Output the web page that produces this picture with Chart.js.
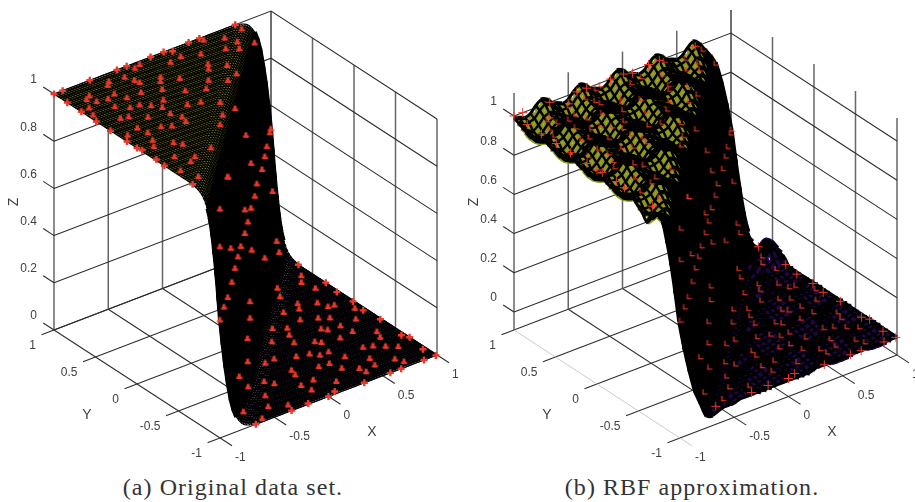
<!DOCTYPE html>
<html lang="en">
<head>
<meta charset="UTF-8">
<title>Original data set and RBF approximation</title>
<script src="https://cdn.jsdelivr.net/npm/chart.js"></script>
<style>
  body { margin: 0; background: #fff; width: 915px; height: 502px; overflow: hidden; position: relative; }
  canvas { position: absolute; top: 0; }
  .cap { position: absolute; top: 474px; font: 24px "Liberation Serif", serif; letter-spacing: 1.05px; color: #333; transform: translateX(-50%); white-space: nowrap; }
</style>
</head>
<body>
<canvas id="chartA" width="460" height="470" style="left:0"></canvas>
<canvas id="chartB" width="455" height="470" style="left:460px"></canvas>
<div class="cap" style="left:233px">(a) Original data set.</div>
<div class="cap" style="left:692px">(b) RBF approximation.</div>
<script>
const xTicks = [-1, -0.5, 0, 0.5, 1];
const yTicks = [-1, -0.5, 0, 0.5, 1];
const zTicks = [0, 0.2, 0.4, 0.6, 0.8, 1];
const tickText = { '-1': '-1', '-0.5': '-0.5', '0': '0', '0.5': '0.5', '1': '1' };

// data sites, upper plateau (z = 1)
const topX = [-1,-.92,-1,-1,-.67,-.82,-.86,-.81,-.92,-1,-.96,-1,-.42,-.33,-.61,-.57,-.65,-.73,-.76,-.61,-.68,-.83,-.77,-.44,-.41,-.40,-.24,-.30,-.11,.01,.07,.07,.24,.34,.35,.67,.67,.62,.49,.40,.53,.48,.21,.16,.12,-.04,-.23,-.13,-.27,-.33,-.48,-.54,-.60,-.42,-.49,-.32,-.21,.02,-.07,.26,.24,.13,-.11,-.22,-.08,-.21,-.31,-.50,-.46,-.48,-.66,-.94,-.82,-.80,-.67,-.60,-1,-1,-.99,-.84,-.89,-.74,-.70,-.99,-1,-.86,-.74,-.81,-.95,-.90,-1,-.57];
const topY = [1,1,.84,.67,1,.72,.79,.82,.68,.49,.58,.32,1,1,.86,.90,.73,.70,.58,.63,.50,.42,.40,.88,.80,.75,.96,.94,1,1,.97,.87,1,1,.96,1,.92,.70,.89,.76,.79,.70,.81,.66,.60,.85,.72,.62,.67,.57,.63,.43,.49,.44,.36,.28,.45,.47,.38,.56,.42,.38,.16,.25,.02,0,-.10,.25,.16,.09,.31,.19,.23,.13,.14,.10,.12,0,-.05,.02,-.06,-.10,-.16,-.22,-.33,-.27,-.36,-.40,-.46,-.61,-.67,-.33];
// data sites on the steep wall
const wallX = [.02,1,.96,.84,.76,-.69,.22,.65,-.69,.45,.37,1,-1,-.02,.22,.10,-.02,1,-1,-.57,-.18,.25,-.29,.76,1,-.41,-.53,-.69,.18,-.84,.18,-1,-.08,-.20,-.34,-.38,-.63];
const wallY = [.02,1,.96,.84,.76,-.69,.22,.65,-.69,.45,.37,.98,-1,-.02,.22,.10,-.02,.93,-1,-.57,-.18,.25,-.29,.76,.90,-.41,-.53,-.69,.18,-.84,.18,-1,-.13,-.29,-.37,-.53,-.80];
const wallZ = [.87,.50,.50,.49,.48,.98,.67,.47,.98,.49,.47,.24,.97,.57,.48,.47,.47,.04,.81,.63,.48,.29,.48,.05,0,.48,.47,.47,.10,.49,.03,.50,.06,.02,0,0,0];
// data sites on the lower plateau (z = 0)
const lowX = [1,.92,.86,.67,.61,.89,1,.98,.65,.61,.77,.80,.85,.99,.94,.97,.49,.52,.64,.71,.85,.99,.28,.37,.32,.56,.59,.70,.72,.86,.97,1,.16,.28,.41,.44,.59,.64,.71,.78,.85,.83,.97,.99,.88,.17,.27,.32,.40,.45,.58,.72,.75,.67,.02,-.07,.02,0,.21,.30,.33,.43,.44,.55,.57,.33,-.24,-.20,-.06,.06,-.04,.18,.08,0,-.36,-.44,-.31,-.34,-.18,-.58,-.67];
const lowY = [.67,.53,.45,.49,.38,.32,.34,.18,.22,.15,.14,.05,.04,0,-.09,-.15,.18,.02,-.04,-.09,-.22,-.33,.04,-.02,-.11,-.18,-.22,-.23,-.35,-.46,-.61,-.67,-.11,-.22,-.30,-.34,-.37,-.58,-.61,-.67,-.73,-.54,-.87,-1,-1,-.39,-.42,-.48,-.48,-.61,-.74,-.86,-.93,-1,-.32,-.33,-.53,-.60,-.61,-.62,-.73,-.81,-.88,-.84,-1,-1,-.54,-.61,-.75,-.74,-.85,-.86,-.97,-1,-.71,-.85,-.92,-1,-.99,-.96,-1];

// panel (a): height read across the step, one value per 0.025 of x - y, from x - y = -0.3
const stepZ = [.995,.993,.989,.983,.973,.957,.937,.905,.858,.79,.71,.61,.50,.39,.29,.21,.142,.095,.063,.043,.027,.017,.011,.007,.005];

// panel (b): heights in hundredths, rows y = 1 .. -1, columns x = -1 .. 1 (step 0.05)
const rbfRows = [
[99,98,97,98,101,103,102,99,98,97,98,101,103,102,99,98,97,98,101,103,102,99,98,97,98,101,103,102,99,98,97,98,101,103,101,97,93,88,78,65,50],
[98,96,96,97,100,102,101,98,96,96,97,100,102,101,98,96,96,97,100,102,101,98,96,96,97,100,102,101,98,96,96,97,100,101,98,93,88,78,65,50,35],
[97,94,93,95,98,99,98,96,94,93,95,98,99,98,96,94,93,95,98,99,98,96,94,93,95,98,99,98,96,94,93,95,98,97,94,88,78,65,50,35,22],
[96,92,92,93,96,98,96,94,92,92,93,96,98,96,94,92,92,93,96,98,96,94,92,92,93,96,98,96,94,92,92,94,95,93,88,78,65,50,35,22,11],
[96,92,91,92,95,97,96,93,92,91,92,95,97,96,93,92,91,92,95,97,96,93,92,91,92,95,97,96,93,92,92,93,92,88,78,65,50,35,22,11,4],
[96,93,92,93,96,98,97,95,93,92,93,96,98,97,95,93,92,93,96,98,97,95,93,92,93,96,98,97,95,94,93,91,88,78,65,50,35,22,11,4,0],
[97,96,95,96,99,101,100,98,96,95,96,99,101,100,98,96,95,96,99,101,100,98,96,95,96,99,101,100,98,95,92,88,78,65,50,35,22,11,4,0,-2],
[98,98,97,98,101,103,102,99,98,97,98,101,103,102,99,98,97,98,101,103,102,99,98,97,98,101,103,101,97,93,88,78,65,50,35,22,11,4,0,-2,-2],
[97,96,96,97,100,102,101,98,96,96,97,100,102,101,98,96,96,97,100,102,101,98,96,96,97,100,101,98,93,88,78,65,50,35,22,11,4,0,-2,-2,-1],
[96,94,93,95,98,99,98,96,94,93,95,98,99,98,96,94,93,95,98,99,98,96,94,93,95,98,97,94,88,78,65,50,35,22,11,4,0,0,1,2,3],
[96,92,92,93,96,98,96,94,92,92,93,96,98,96,94,92,92,93,96,98,96,94,92,92,94,95,93,88,78,65,50,35,22,11,4,0,1,4,7,7,4],
[96,92,91,92,95,97,96,93,92,91,92,95,97,96,93,92,91,92,95,97,96,93,92,92,93,92,88,78,65,50,35,22,11,4,0,-2,2,8,11,9,5],
[96,93,92,93,96,98,97,95,93,92,93,96,98,97,95,93,92,93,96,98,97,95,94,93,91,88,78,65,50,35,22,11,4,0,-2,0,3,5,8,7,4],
[97,96,95,96,99,101,100,98,96,95,96,99,101,100,98,96,95,96,99,101,100,98,95,92,88,78,65,50,35,22,11,4,0,-2,-2,-1,2,2,4,4,3],
[98,98,97,98,101,103,102,99,98,97,98,101,103,102,99,98,97,98,101,103,101,97,93,88,78,65,50,35,22,11,4,0,-2,-2,-1,1,0,0,0,1,0],
[97,96,96,97,100,102,101,98,96,96,97,100,102,101,98,96,96,97,100,101,98,93,88,78,65,50,35,22,11,4,0,-2,-2,-1,1,0,0,0,0,1,0],
[96,94,93,95,98,99,98,96,94,93,95,98,99,98,96,94,93,95,98,97,94,88,78,65,50,35,22,11,4,0,-2,-2,-1,1,0,0,-1,-1,-1,0,0],
[96,92,92,93,96,98,96,94,92,92,93,96,98,96,94,92,92,94,95,93,88,78,65,50,35,22,11,4,0,-2,-2,-1,0,0,0,-1,-2,-2,-1,0,0],
[96,92,91,92,95,97,96,93,92,91,92,95,97,96,93,92,92,93,92,88,78,65,50,35,22,11,4,0,-2,-2,-1,-2,-1,0,0,-1,-2,-2,-2,-1,0],
[96,93,92,93,96,98,97,95,93,92,93,96,98,97,95,94,93,91,88,78,65,50,35,22,11,4,0,-2,-2,-1,-2,-1,0,0,0,-1,-1,-2,-1,0,0],
[97,96,95,96,99,101,100,98,96,95,96,99,101,100,98,95,92,88,78,65,50,35,22,11,4,0,-2,-2,-1,0,-1,0,1,1,1,0,0,-1,0,1,0],
[98,98,97,98,101,103,102,99,98,97,98,101,103,101,97,93,88,78,65,50,35,22,11,4,0,-2,-2,-1,1,0,0,0,1,2,2,1,0,0,0,1,0],
[97,96,96,97,100,102,101,98,96,96,97,100,101,98,93,88,78,65,50,35,22,11,4,0,-2,-2,-1,1,0,0,0,0,1,2,1,0,0,0,0,1,0],
[96,94,93,95,98,99,98,96,94,93,95,98,97,94,88,78,65,50,35,22,11,4,0,-2,-2,-1,1,0,0,-1,-1,-1,0,1,0,0,-1,-1,-1,0,0],
[96,92,92,93,96,98,96,94,92,92,94,95,93,88,78,65,50,35,22,11,4,0,-2,-2,-1,0,0,0,-1,-2,-2,-1,0,0,0,-1,-2,-2,-1,0,0],
[96,92,91,92,95,97,96,93,92,92,93,92,88,78,65,50,35,22,11,4,0,-2,-2,-1,-2,-1,0,0,-1,-2,-2,-2,-1,0,0,-1,-2,-2,-2,-1,0],
[96,93,92,93,96,98,97,95,94,93,91,88,78,65,50,35,22,11,4,0,-2,-2,-1,-2,-1,0,0,0,-1,-1,-2,-1,0,0,0,-1,-1,-2,-1,0,0],
[97,96,95,96,99,101,100,98,95,92,88,78,65,50,35,22,11,4,0,-2,-2,-1,0,-1,0,1,1,1,0,0,-1,0,1,1,1,0,0,-1,0,1,0],
[98,98,97,98,101,103,101,97,93,88,78,65,50,35,22,11,4,0,-2,-2,-1,1,0,0,0,1,2,2,1,0,0,0,1,2,2,1,0,0,0,1,0],
[97,96,96,97,100,101,98,93,88,78,65,50,35,22,11,4,0,-2,-2,-1,1,0,0,0,0,1,2,1,0,0,0,0,1,2,1,0,0,0,0,1,0],
[95,93,93,95,98,97,94,88,78,65,50,35,22,11,4,0,-2,-2,-1,1,0,0,-1,-1,-1,0,1,0,0,-1,-1,-1,0,1,0,0,-1,-1,-1,0,0],
[93,92,92,94,95,93,88,78,65,50,35,22,11,4,0,-2,-2,-1,0,0,0,-1,-2,-2,-1,0,0,0,-1,-2,-2,-1,0,0,0,-1,-2,-2,-1,0,0],
[90,91,92,93,92,88,78,65,50,35,22,11,4,0,-2,-2,-1,-2,-1,0,0,-1,-2,-2,-2,-1,0,0,-1,-2,-2,-2,-1,0,0,-1,-2,-2,-2,-1,0],
[94,94,93,91,88,78,65,50,35,22,11,4,0,-2,-2,-1,-2,-1,0,0,0,-1,-1,-2,-1,0,0,0,-1,-1,-2,-1,0,0,0,-1,-1,-2,-1,0,0],
[97,95,92,88,78,65,50,35,22,11,4,0,-2,-2,-1,0,-1,0,1,1,1,0,0,-1,0,1,1,1,0,0,-1,0,1,1,1,0,0,-1,0,1,0],
[97,93,88,78,65,50,35,22,11,4,0,-2,-2,-1,1,0,0,0,1,2,2,1,0,0,0,1,2,2,1,0,0,0,1,2,2,1,0,0,0,1,0],
[96,88,78,65,50,35,22,11,4,0,-2,-2,-1,1,0,0,0,0,1,2,1,0,0,0,0,1,2,1,0,0,0,0,1,2,1,0,0,0,0,1,0],
[88,78,65,50,35,22,11,4,0,-2,-2,-1,1,0,0,-1,-1,-1,0,1,0,0,-1,-1,-1,0,1,0,0,-1,-1,-1,0,1,0,0,-1,-1,-1,0,0],
[78,65,50,35,22,11,4,0,-2,-2,-1,0,0,0,-1,-2,-2,-1,0,0,0,-1,-2,-2,-1,0,0,0,-1,-2,-2,-1,0,0,0,-1,-2,-2,-1,0,0],
[65,50,35,22,11,4,0,-2,-2,-1,-2,-1,0,0,-1,-2,-2,-2,-1,0,0,-1,-2,-2,-2,-1,0,0,-1,-2,-2,-2,-1,0,0,-1,-2,-2,-2,-1,0],
[50,35,22,11,4,-3,-4,-3,-2,-2,-2,-1,-1,-1,-1,-1,-1,-1,-1,-1,-1,-1,-1,-1,-1,0,0,0,0,0,0,0,0,0,0,0,0,0,0,0,0]
];

const zColorsA = ['#0a0610', '#0c1014', '#141f14', '#3a4610', '#5e5c0c'];
const zColorsB = ['#1e0742', '#1c3c5c', '#16605c', '#4e8230', '#8f9a1c'];

const panelA = { w: 460, zPx: 236, zShift: 0, zLo: 0, zHi: 1, colors: zColorsA, underW: 2.4, meshW: 1.1, awayW: 1.1, edgeW: 1.1, steepW: 4, steep: 0.025, tension: 0, underCross: false, frontEdge: '#2e2e2e' };
const panelB = { w: 455, zPx: 196, zShift: 18, zLo: -0.092, zHi: 1.117, colors: zColorsB, underW: 7, meshW: 2.5, awayW: 4.4, edgeW: 3, steepW: 5.5, steep: 0.07, tension: 0.25, underCross: true, frontEdge: '#b5b5b5' };

function project(p, x, y, z) {
  const a = (x + 1) / 2, b = (1 - y) / 2;
  return { x: 54 + 217 * a + 166 * b, y: 330 - 83 * a + 108 * b - p.zShift - p.zPx * z, z: z };
}

function zColor(p, z) {
  const n = p.colors.length;
  const idx = Math.max(0, Math.min(n - 1, Math.round(z * (n - 1))));
  return p.colors[idx];
}

function boxLine(p, pts, color, width, order) {
  return {
    data: pts.map(q => project(p, q[0], q[1], q[2])),
    showLine: true, pointRadius: 0, borderColor: color, borderWidth: width, order: order
  };
}

function boxDatasets(p) {
  const out = [];
  const dark = '#2e2e2e', grey = '#666', lo = p.zLo, hi = p.zHi;
  zTicks.forEach(z => {
    out.push(boxLine(p, [[-1, 1, z], [1, 1, z], [1, -1, z]], dark, 1.1, 5));
    out.push(boxLine(p, [[-1, 1.13, z], [-1, 1, z]], dark, 1.1, 5));
  });
  xTicks.forEach(x => {
    out.push(boxLine(p, [[x, 1, lo], [x, 1, hi]], grey, 1.5, 5));
    out.push(boxLine(p, [[x, 1, lo], [x, -1.145, lo]], x === -1 ? p.frontEdge : dark, x === -1 && p === panelB ? 0.7 : 1.1, 5));
  });
  yTicks.forEach(y => {
    out.push(boxLine(p, [[1, y, lo], [1, y, hi]], grey, 1.5, 5));
    out.push(boxLine(p, [[1, y, lo], [-1.115, y, lo]], dark, 1.1, 5));
  });
  return out;
}

// sign: +1 when the line runs towards the back of the box, -1 when it runs to the front
function meshLine(p, pts, under, sign, edge) {
  const base = under ? p.underW : (edge ? p.edgeW : p.meshW);
  return {
    data: pts, showLine: true, pointRadius: 0, tension: p.tension, order: under ? 3 : 2,
    borderWidth: base,
    borderColor: under ? '#777' : '#000',
    segment: {
      borderColor: c => {
        const z0 = pts[c.p0DataIndex].z, z1 = pts[c.p1DataIndex].z;
        if (under) return Math.abs(z1 - z0) >= p.steep ? '#000' : zColor(p, z0);
        return '#000';
      },
      borderWidth: c => {
        const z0 = pts[c.p0DataIndex].z, z1 = pts[c.p1DataIndex].z;
        const dz = z1 - z0;
        if (Math.abs(dz) >= p.steep) return p.steepW;
        if (under) return p.underW;
        return dz * sign < -0.005 ? Math.max(p.awayW, base) : base;
      }
    }
  };
}

// grid of projected nodes -> mesh lines, front lines first so they end up on top
function meshDatasets(p, nodes) {
  const out = [];
  const n = nodes.length, m = nodes[0].length;
  for (let j = n - 1; j >= 0; j--) out.push(meshLine(p, nodes[j], false, 1, j === 0 || j === n - 1));
  for (let i = 0; i < m; i++) out.push(meshLine(p, nodes.map(r => r[i]), false, -1, i === 0 || i === m - 1));
  for (let j = n - 2; j >= 1; j--) out.push(meshLine(p, nodes[j], true, 1, false));
  if (p.underCross) {
    for (let i = 1; i < m - 1; i++) out.push(meshLine(p, nodes.map(r => r[i]), true, -1, false));
  }
  return out;
}

function nodesA(p) {
  const n = 80, rows = [];
  for (let j = 0; j <= n; j++) {
    const row = [];
    for (let i = 0; i <= n; i++) {
      const k = i + j - 68;
      const z = k < 0 ? 1 : (k >= stepZ.length ? 0 : stepZ[k]);
      row.push(project(p, -1 + i * 2 / n, 1 - j * 2 / n, z));
    }
    rows.push(row);
  }
  return rows;
}

function nodesB(p) {
  return rbfRows.map((r, j) => r.map((v, i) => project(p, -1 + i * 0.05, 1 - j * 0.05, v / 100)));
}

function siteDataset(p, sprite) {
  const pts = [];
  topX.forEach((x, i) => pts.push(project(p, x, topY[i], 1)));
  wallX.forEach((x, i) => pts.push(project(p, x, wallY[i], wallZ[i])));
  lowX.forEach((x, i) => pts.push(project(p, x, lowY[i], 0)));
  const onEdge = [];
  topX.forEach((x, i) => onEdge.push(Math.abs(x) > 0.96 || topY[i] > 0.96));
  wallX.forEach(() => onEdge.push(false));
  lowX.forEach((x, i) => onEdge.push(x > 0.96 || lowY[i] < -0.96));
  return {
    data: pts, showLine: false, order: 0,
    pointStyle: c => onEdge[c.dataIndex] ? 'cross' : sprite,
    pointRadius: p === panelA ? 3.5 : 4.5,
    pointBorderWidth: p === panelA ? 2.4 : 1,
    pointBorderColor: '#e8392b',
    pointBackgroundColor: '#e8392b'
  };
}

function markSprite(bold) {
  const c = document.createElement('canvas');
  c.width = 11; c.height = 11;
  const g = c.getContext('2d');
  g.fillStyle = '#e8392b';
  if (bold) {
    g.fillRect(2.5, 5.5, 6, 2.5);
    g.fillRect(3.8, 2.5, 3, 4);
  } else {
    g.fillRect(4.5, 1, 1.1, 5);
    g.fillRect(4.5, 5.2, 5, 1.1);
  }
  return c;
}

const tickLabels = {
  id: 'tickLabels',
  afterDraw(chart, args, opts) {
    const p = opts.panel, g = chart.ctx, sx = chart.scales.x, sy = chart.scales.y;
    const at = (x, y, z) => {
      const q = project(p, x, y, z);
      return [sx.getPixelForValue(q.x), sy.getPixelForValue(q.y)];
    };
    g.save();
    g.fillStyle = '#404040';
    g.font = '12px "Liberation Sans", sans-serif';
    g.textBaseline = 'middle';
    g.textAlign = 'right';
    zTicks.forEach(z => {
      const q = at(-1, 1, z);
      g.fillText(String(z), q[0] - 17, q[1] - 14);
    });
    yTicks.forEach(y => {
      const q = at(-1, y, p.zLo);
      g.fillText(tickText[y], q[0] - 18, q[1] + 16);
    });
    g.textAlign = 'left';
    xTicks.forEach(x => {
      const q = at(x, -1, p.zLo);
      g.fillText(tickText[x], q[0] + 15, q[1] + 19.5);
    });
    g.textAlign = 'center';
    g.font = '14px "Liberation Sans", sans-serif';
    g.fillText('X', 372, 432);
    g.fillText('Y', 87, 415);
    g.translate(14, 202);
    g.rotate(-Math.PI / 2);
    g.fillText('Z', 0, 0);
    g.restore();
  }
};

function makeChart(id, p, nodes, sprite) {
  new Chart(document.getElementById(id), {
    type: 'scatter',
    data: { datasets: [siteDataset(p, sprite)].concat(meshDatasets(p, nodes), boxDatasets(p)) },
    options: {
      responsive: false, animation: false, events: [], clip: false,
      layout: { padding: 0, autoPadding: false },
      plugins: { legend: { display: false }, tooltip: { enabled: false }, tickLabels: { panel: p } },
      scales: {
        x: { type: 'linear', display: false, min: 0, max: p.w },
        y: { type: 'linear', display: false, min: 0, max: 470, reverse: true }
      }
    },
    plugins: [tickLabels]
  });
}

makeChart('chartA', panelA, nodesA(panelA), markSprite(true));
makeChart('chartB', panelB, nodesB(panelB), markSprite(false));
</script>
</body>
</html>
